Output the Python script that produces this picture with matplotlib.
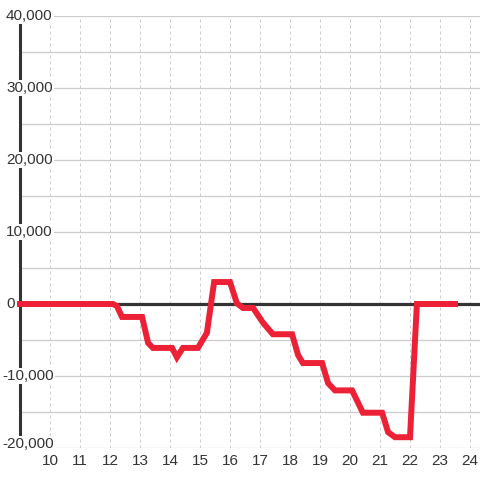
import matplotlib.pyplot as plt
import matplotlib.transforms as mtransforms
import numpy as np

# values
hours = [9.0, 12.1, 12.23, 12.4, 13.07, 13.27, 13.43, 14.07, 14.23, 14.43,
         14.93, 15.23, 15.47, 16.0, 16.23, 16.43, 16.77, 17.1, 17.43, 18.07,
         18.27, 18.43, 19.07, 19.27, 19.5, 20.07, 20.43, 21.07, 21.27, 21.5,
         22.0, 22.23, 23.5]
values = [0, 0, -280, -1800, -1800, -5400, -6100, -6100, -7400, -6100,
          -6100, -4000, 3050, 3050, 100, -550, -550, -2600, -4200, -4200,
          -7100, -8200, -8200, -11000, -12000, -12000, -15100, -15100, -17800, -18500,
          -18500, 0, 0]

x_ticks = list(range(10, 25))
y_labels = [40000, 30000, 20000, 10000, 0, -10000, -20000]

text_color = '#333333'
red = '#ED2136'
fsize = 11

plt.rcParams['font.family'] = ['Liberation Sans', 'DejaVu Sans']

fig = plt.figure(figsize=(4.8, 4.8), dpi=100)
ax = fig.add_axes([20 / 480, 32 / 480, 460 / 480, 432 / 480])

ax.set_xlim(9, 9 + 460 / 30)
ax.set_ylim(-20000, 40000)

# grid: solid horizontal every 5000, dashed vertical every hour
ax.set_yticks(np.arange(-20000, 40001, 5000))
ax.set_yticklabels([])
ax.yaxis.grid(True, color='#cccccc', lw=0.9)
ax.set_xticks(x_ticks)
ax.set_xticklabels([str(t) for t in x_ticks])
ax.xaxis.grid(True, color='#cccccc', lw=0.72, linestyle=(0, (3, 3)))
ax.set_axisbelow(True)
ax.tick_params(axis='y', length=0)
ax.tick_params(axis='x', length=0, pad=4.5, labelsize=fsize, labelcolor=text_color)

for side in ['top', 'right', 'bottom']:
    ax.spines[side].set_visible(False)
ax.spines['left'].set_color(text_color)
ax.spines['left'].set_linewidth(2.2)

# zero line and the series
ax.axhline(0, color=text_color, lw=2.3, zorder=2)
ax.plot(hours, values, color=red, lw=4.3, solid_capstyle='projecting',
        solid_joinstyle='miter', zorder=3, clip_on=False)

# y labels sit over the axis with a white background
trans = mtransforms.blended_transform_factory(fig.transFigure, ax.transData)
for v in y_labels:
    x = 6 / 480 if v >= 0 else 2 / 480
    va = 'baseline' if v == -20000 else 'center'
    ax.text(x, v, f"{v:,}", transform=trans, ha='left', va=va, fontsize=fsize,
            color=text_color, zorder=4,
            bbox=dict(facecolor='white', edgecolor='none', pad=1))

fig.savefig('out.png', dpi=100)
